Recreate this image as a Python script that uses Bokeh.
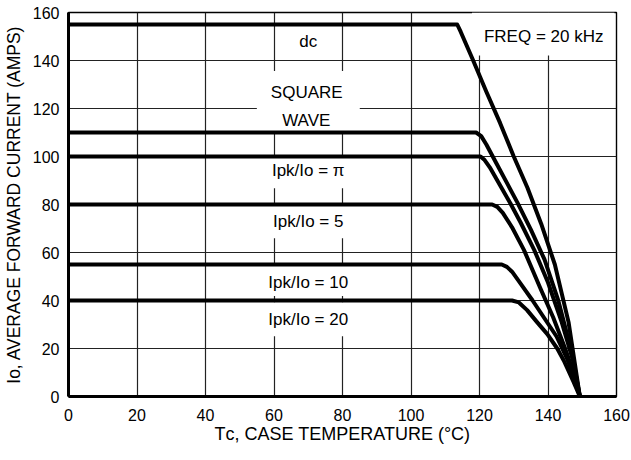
from bokeh.plotting import figure
from bokeh.models import Label
from bokeh.embed import file_html
from bokeh.resources import INLINE

# ---- data ----
temp_ticks = [0, 20, 40, 60, 80, 100, 120, 140, 160]
current_ticks = [0, 20, 40, 60, 80, 100, 120, 140, 160]

dc_temp = [0, 113.5, 114.5, 118, 122, 126, 130, 134, 138, 142, 146, 149.3]
dc_amps = [155, 155, 152, 140.5, 127, 114, 100, 87, 72, 55, 31, 0]

square_temp = [0, 119, 120.5, 122, 125, 128, 131, 135, 139, 143, 147, 149.3]
square_amps = [110, 110, 108.5, 105, 97, 89, 81, 69.5, 57, 40, 18, 0]

pi_temp = [0, 120.3, 121.5, 123, 126, 129, 132, 136, 140, 144, 147.3, 149.3]
pi_amps = [100, 100, 98.5, 95.5, 88, 80.5, 72.5, 61, 47.5, 31, 15, 0]

r5_temp = [0, 123.7, 125.2, 126.8, 129.5, 133, 137.8, 141.5, 145, 147.7, 149.3]
r5_amps = [80, 80, 79, 76.5, 70.5, 61, 45, 33, 20, 9, 0]

r10_temp = [0, 126.5, 128, 129.5, 132, 135.5, 139, 142.5, 145.5, 148, 149.3]
r10_amps = [55, 55, 54, 52, 47, 40, 32.5, 25, 16, 6.5, 0]

r20_temp = [0, 129.5, 131.5, 133.9, 136.8, 139.8, 142.7, 144.6, 147.5, 149.3]
r20_amps = [40, 40, 39.2, 36, 31, 26, 20, 15, 6, 0]

curves = [
    (dc_temp, dc_amps),
    (square_temp, square_amps),
    (pi_temp, pi_amps),
    (r5_temp, r5_amps),
    (r10_temp, r10_amps),
    (r20_temp, r20_amps),
]

x_title = "T\u1d04, CASE TEMPERATURE (\u00b0C)"
y_title = "I\u1d0f, AVERAGE FORWARD CURRENT (AMPS)"

FONT = "Liberation Sans"

p = figure(width=631, height=460, x_range=(0, 160), y_range=(0, 160),
           output_backend="svg", toolbar_location=None,
           min_border_left=68, min_border_right=15, min_border_top=12, min_border_bottom=64)

p.background_fill_color = "white"
p.border_fill_color = "white"
p.outline_line_color = "black"
p.outline_line_width = 1.4

for ax, ticks in ((p.xaxis, temp_ticks), (p.yaxis, current_ticks)):
    ax.ticker = ticks
    ax.major_tick_in = 0
    ax.major_tick_out = 0
    ax.minor_tick_in = 0
    ax.minor_tick_out = 0
    ax.axis_line_width = 3
    ax.axis_line_color = "black"
    ax.major_label_text_font = FONT
    ax.major_label_text_font_size = "16px"
    ax.major_label_text_color = "black"
    ax.axis_label_text_font = FONT
    ax.axis_label_text_font_style = "normal"
    ax.axis_label_text_color = "black"
p.xaxis.major_label_standoff = 12
p.yaxis.major_label_standoff = 9
p.xaxis.axis_label = x_title
p.yaxis.axis_label = y_title
p.xaxis.axis_label_text_font_size = "18px"
p.yaxis.axis_label_text_font_size = "17.5px"
p.xaxis.axis_label_standoff = 0
p.yaxis.axis_label_standoff = 6

p.xgrid.ticker = temp_ticks
p.ygrid.ticker = current_ticks
for g in (p.xgrid, p.ygrid):
    g.grid_line_color = "#222222"
    g.grid_line_width = 1.2

for t, a in curves:
    p.line(t, a, line_color="black", line_width=4, line_join="round", line_cap="round")


def note(text, x, y, size="17px", pad=None):
    lab = Label(x=x, y=y, text=text, text_font=FONT, text_font_size=size,
                text_color="black", text_align="center", text_baseline="alphabetic")
    if pad is not None:
        lab.background_fill_color = "white"
        lab.padding = pad
        lab.level = "underlay"
    p.add_layout(lab)


# curve labels
note("dc", 70, 148.0)
note("SQUARE", 70, 127.3, pad=dict(left=14, right=17, top=12, bottom=9))
note("WAVE", 70, 115.6, pad=dict(left=25, right=29, top=6, bottom=3))
note("Ipk/Io = \u03c0", 70, 93.6, pad=dict(left=6, right=6, top=6, bottom=8))
note("Ipk/Io = 5", 70, 72.8, pad=dict(left=6, right=6, top=7, bottom=7))
note("Ipk/Io = 10", 70, 48.5, pad=dict(left=6, right=6, top=9, bottom=4))
note("Ipk/Io = 20", 70, 32.2, pad=dict(left=6, right=6, top=8, bottom=7))
note("FREQ = 20 kHz", 138.6, 151.0, pad=dict(left=12, right=11, top=14, bottom=10))

open("out.html", "w").write(file_html(p, INLINE))
